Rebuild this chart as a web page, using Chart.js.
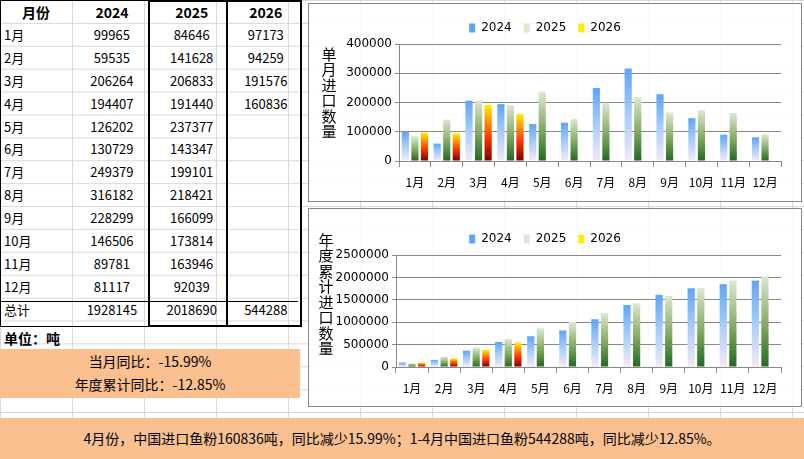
<!DOCTYPE html>
<html><head><meta charset="utf-8">
<script src="https://cdn.jsdelivr.net/npm/chart.js@4/dist/chart.umd.min.js"></script>
<style>
body{margin:0;width:804px;height:459px;position:relative;overflow:hidden;background:#fff;font-family:"Noto Sans CJK SC","Noto Sans",sans-serif;font-size:13px;color:#000;
 background-image:linear-gradient(#d8d8d8 1px,transparent 1px),linear-gradient(90deg,#d8d8d8 1px,transparent 1px);background-size:100% 22.9px,72px 100%;}
table{position:absolute;left:0;top:0;border-collapse:collapse;width:300px;background:transparent}
td{height:22.9px;padding:0;text-align:center;line-height:21px}
td.m{text-align:left;padding-left:4px;width:68px}
th{height:23px;font-weight:bold;font-size:14px;padding:0}
.box{position:absolute;border:2px solid #000;pointer-events:none}
.panel{position:absolute;left:308px;width:492px;height:197px;border:1px solid #888;background:rgba(255,255,255,.85)}
.orange{position:absolute;background:#fac090}
</style></head><body>
<table id="tbl"></table>
<div class="box" style="left:0;top:0;width:300px;height:325px;border-width:1px"></div>
<div class="box" style="left:148px;top:0;width:76px;height:323px"></div>
<div class="box" style="left:226px;top:0;width:72px;height:323px"></div>
<div class="box" style="left:0;top:301px;width:298px;height:0;border-width:1px 0 0 0"></div>
<div style="position:absolute;left:4px;top:328px;font-weight:bold;font-size:14px">单位：吨</div>
<div class="orange" style="left:0;top:349px;width:300px;height:48px;text-align:center;line-height:23px;font-size:14px;padding-top:1px">当月同比：-15.99%<br>年度累计同比：-12.85%</div>
<div class="orange" style="left:0;top:418px;width:804px;height:41px;text-align:center;line-height:40px;font-size:14px">4月份，中国进口鱼粉160836吨，同比减少15.99%；1-4月中国进口鱼粉544288吨，同比减少12.85%。</div>
<div class="panel" style="top:3px"><canvas id="c1"></canvas></div>
<div class="panel" style="top:208px"><canvas id="c2"></canvas></div>
<script>
const months=['1月','2月','3月','4月','5月','6月','7月','8月','9月','10月','11月','12月'];
const years=['2024','2025','2026'];
const m2024=[99965,59535,206264,194407,126202,130729,249379,316182,228299,146506,89781,81117];
const m2025=[84646,141628,206833,191440,237377,143347,199101,218421,166099,173814,163946,92039];
const m2026=[97173,94259,191576,160836];
const totals=[1928145,2018690,544288];
const c2024=[99965,159500,365764,560171,686373,817102,1066481,1382663,1610962,1757468,1847249,1928366];
const c2025=[84646,226274,433107,624547,861924,1005271,1204372,1422793,1588892,1762706,1926652,2018691];
const c2026=[97173,191432,383008,543844];

let h='<tr><th>月份</th><th>2024</th><th>2025</th><th>2026</th></tr>';
months.forEach((m,i)=>{h+=`<tr><td class="m">${m}</td><td>${m2024[i]}</td><td>${m2025[i]}</td><td>${m2026[i]??''}</td></tr>`;});
h+=`<tr><td class="m" style="height:24px">总计</td><td>${totals[0]}</td><td>${totals[1]}</td><td>${totals[2]}</td></tr>`;
document.getElementById('tbl').innerHTML=h;

const stops=[[['#5ea4f8',0],['#a8cdfb',.5],['#f4eaf6',1]],[['#dce9cf',0],['#7fa860',.55],['#1f6b1f',1]],[['#ffee00',0],['#ff3000',.6],['#7a0000',1]]];
function grad(k){return ctx=>{const {chart}=ctx;const a=chart.chartArea;if(!a)return stops[k][0][0];
 const v=ctx.raw;const ys=chart.scales.y;const top=ys.getPixelForValue(v),bot=ys.getPixelForValue(0);
 if(!isFinite(top)||bot-top<1)return stops[k][0][0];
 const g=chart.ctx.createLinearGradient(0,top,0,bot);stops[k].forEach(s=>g.addColorStop(s[1],s[0]));return g;}}
function make(id,data,max,step,title,cfg){
 new Chart(document.getElementById(id),{type:'bar',
 data:{labels:months,datasets:data.map((d,k)=>({label:years[k],data:d,backgroundColor:grad(k),barPercentage:0.75,categoryPercentage:0.9}))},
 options:{responsive:false,animation:false,devicePixelRatio:1,
  layout:{padding:{left:0,right:20,top:cfg.top,bottom:0}},
  plugins:{legend:{labels:{boxWidth:6,boxHeight:9,font:{size:12,family:'Verdana,DejaVu Sans'},color:'#000',padding:12}},tooltip:{enabled:false}},
  scales:{x:{afterFit:s=>{s.height=cfg.xh;},grid:{color:'#888',drawOnChartArea:false,tickLength:6},border:{color:'#888'},ticks:{color:'#000',padding:8,font:{size:12,family:'Noto Sans CJK SC'},maxRotation:0,autoSkip:false}},
   y:{min:0,max:max,afterFit:s=>{s.width=cfg.yw;},ticks:{stepSize:step,color:'#000',callback:v=>String(v),font:{size:12,family:'Verdana,DejaVu Sans'}},grid:{color:'#888',tickLength:4},border:{color:'#888'}}}},
 plugins:[{id:'yt',afterDraw(c){const x=c.ctx;x.save();x.font='15px "Noto Sans CJK SC"';x.fillStyle='#000';x.textAlign='center';x.textBaseline='middle';
  [...title].forEach((ch,i)=>x.fillText(ch,cfg.tx,cfg.ty+i*15.5));x.restore();}}]});
}
for(const id of ['c1','c2']){const cv=document.getElementById(id);cv.width=492;cv.height=197;}
make('c1',[m2024,m2025,m2026],400000,100000,'单月进口数量',{top:6,xh:40,yw:90,tx:20,ty:50});
make('c2',[c2024,c2025,c2026],2500000,500000,'年度累计进口数量',{top:12,xh:39,yw:87,tx:17,ty:31});
</script></body></html>
